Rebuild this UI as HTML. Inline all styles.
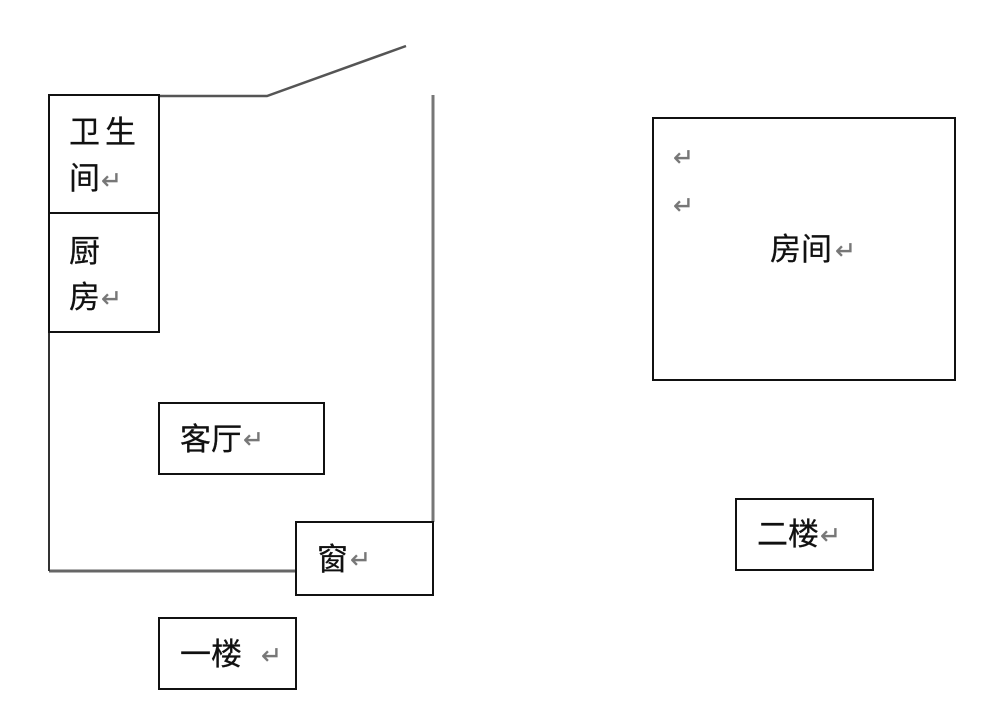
<!DOCTYPE html>
<html lang="zh">
<head>
<meta charset="utf-8">
<title>一楼二楼平面图</title>
<style>
html,body{margin:0;padding:0;background:#fff;width:1000px;height:727px;overflow:hidden}
svg{display:block}
.t{font-family:"Liberation Sans","Noto Sans CJK SC",sans-serif;font-size:31px;fill:#111;stroke:#111;stroke-width:.25}
.r{font-family:"DejaVu Sans",sans-serif;font-size:25px;fill:#777;stroke:#777;stroke-width:.3}
.b{fill:#fff;stroke:#111;stroke-width:2}
.w{fill:none;stroke:#555;stroke-width:2}
</style>
</head>
<body>
<svg width="1000" height="727" viewBox="0 0 1000 727" xmlns="http://www.w3.org/2000/svg">
<rect width="1000" height="727" fill="#fff"/>
<path class="w" d="M49 571H296" style="stroke:#666;stroke-width:3"/>
<path class="w" d="M49 332V571" style="stroke:#333"/>
<path class="w" d="M159 96H267L406 46" style="stroke-width:2.5"/>
<path class="w" d="M433 95V522" style="stroke:#777;stroke-width:3"/>
<rect class="b" x="49" y="95" width="110" height="118"/>
<rect class="b" x="49" y="213" width="110" height="119"/>
<rect class="b" x="159" y="403" width="165" height="71"/>
<rect class="b" x="296" y="522" width="137" height="73"/>
<rect class="b" x="159" y="618" width="137" height="71"/>
<rect class="b" x="653" y="118" width="302" height="262"/>
<rect class="b" x="736" y="499" width="137" height="71"/>
<text class="t" x="69" y="143">卫</text>
<text class="t" x="105" y="143">生</text>
<text class="t" x="69" y="189">间</text>
<text class="t" x="69" y="262">厨</text>
<text class="t" x="69" y="308">房</text>
<text class="t" x="180" y="450">客厅</text>
<text class="t" x="317" y="570">窗</text>
<text class="t" x="180" y="665">一楼</text>
<text class="t" x="770" y="260">房间</text>
<text class="t" x="757" y="545">二楼</text>
<text class="r" x="101" y="189">↵</text>
<text class="r" x="101" y="307">↵</text>
<text class="r" x="243" y="448">↵</text>
<text class="r" x="350" y="568">↵</text>
<text class="r" x="261" y="664">↵</text>
<text class="r" x="673" y="166">↵</text>
<text class="r" x="673" y="214">↵</text>
<text class="r" x="835" y="259">↵</text>
<text class="r" x="820" y="544">↵</text>
</svg>
</body>
</html>
